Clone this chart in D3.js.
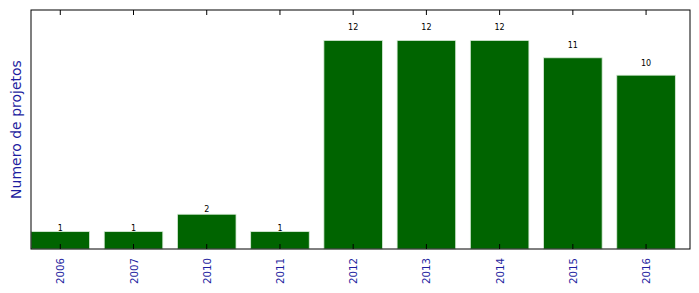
<!DOCTYPE html>
<html><head><meta charset="utf-8">
<script src="https://cdn.jsdelivr.net/npm/d3@7"></script>
<style>body{margin:0;background:#fff;} svg{display:block;}</style>
</head><body>
<svg id="c" width="699" height="293"></svg>
<script>
const categories = ["2006","2007","2010","2011","2012","2013","2014","2015","2016"];
const values = [1,1,2,1,12,12,12,11,10];
const yLabel = "Numero de projetos";

const svg = d3.select("#c");
const L = 31, R = 690, T = 10, B = 249;
const x = d3.scaleLinear().domain([0, categories.length]).range([L, R]);
const y = d3.scaleLinear().domain([0, 13.75]).range([B, T]);
const bw = 0.8;

svg.append("g").selectAll("rect").data(values).join("rect")
  .attr("x", (d,i) => x(i))
  .attr("width", x(bw) - x(0))
  .attr("y", d => y(d))
  .attr("height", d => y(0) - y(d))
  .attr("fill", "#006400")
  .attr("stroke", "#d8ecd8")
  .attr("stroke-width", 0.8);

svg.append("g").selectAll("text").data(values).join("text")
  .attr("x", (d,i) => x(i + bw/2))
  .attr("y", d => y(d * 1.05))
  .attr("text-anchor", "middle")
  .attr("font-family", "DejaVu Sans")
  .attr("font-size", 8)
  .attr("fill", "#000")
  .text(d => d);

// ticks bottom and top, inside
const tickPos = categories.map((c,i) => i + bw/2);
svg.append("g").selectAll("line").data(tickPos).join("line")
  .attr("x1", d => x(d)).attr("x2", d => x(d))
  .attr("y1", B).attr("y2", B - 5)
  .attr("stroke", "#000").attr("stroke-width", 1);
svg.append("g").selectAll("line").data(tickPos).join("line")
  .attr("x1", d => x(d)).attr("x2", d => x(d))
  .attr("y1", T).attr("y2", T + 5)
  .attr("stroke", "#000").attr("stroke-width", 1);

// frame
svg.append("rect").attr("x", L).attr("y", T).attr("width", R - L).attr("height", B - T)
  .attr("fill", "none").attr("stroke", "#000").attr("stroke-width", 1);

// tick labels rotated
svg.append("g").selectAll("text").data(categories).join("text")
  .attr("transform", (d,i) => `translate(${x(i + bw/2) + 4},${B + 9}) rotate(-90)`)
  .attr("text-anchor", "end")
  .attr("font-family", "DejaVu Sans")
  .attr("font-size", 10.2)
  .attr("fill", "#1e1ea0")
  .text(d => d);

svg.append("text")
  .attr("transform", `translate(21,${(T+B)/2}) rotate(-90)`)
  .attr("text-anchor", "middle")
  .attr("font-family", "DejaVu Sans")
  .attr("font-size", 14)
  .attr("fill", "#1e1ea0")
  .text(yLabel);
</script>
</body></html>
